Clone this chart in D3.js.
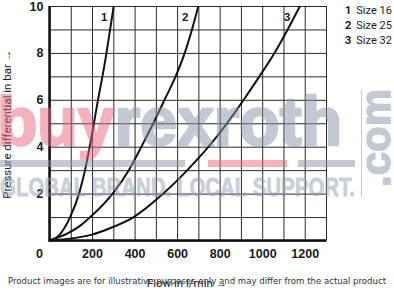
<!DOCTYPE html>
<html><head><meta charset="utf-8">
<script src="https://cdn.jsdelivr.net/npm/d3@7"></script>
<style>
html,body{margin:0;padding:0;background:#fff;}
svg{display:block;}
</style></head>
<body>
<svg id="chart" width="394" height="290"></svg>
<script>
// ---- data ----
const pressure1 = [0, 0.25, 0.5, 1, 2, 3, 4, 5, 6, 7, 8, 9, 10];
const flowSize16 = [0, 48, 68, 97, 139, 167, 189, 209, 228, 249, 268, 285, 302];
const pressure2 = [0, 0.3, 0.6, 1, 2, 3, 4, 5, 6, 7, 8, 9, 10];
const flowSize25 = [0, 85, 140, 192, 297, 373, 432, 488, 541, 593, 636, 670, 700];
const pressure3 = [0, 0.25, 0.5, 1, 2, 3, 4, 5, 6, 7, 8, 9, 10];
const flowSize32 = [0, 200, 278, 396, 535, 648, 748, 835, 913, 987, 1058, 1120, 1178];
const seriesNames = ["1", "2", "3"];
const legendLabels = ["Size 16", "Size 25", "Size 32"];
const flowTicks = [200, 400, 600, 800, 1000, 1200];
const pressureTicks = [2, 4, 6, 8, 10];
const xTitle = "Flow in l/min \u2192";
const yTitle = "Pressure differential in bar \u2192";
const disclaimer = "Product images are for illustrative purposes only and may differ from the actual product";

const svg = d3.select("#chart");
const x = d3.scaleLinear().domain([0, 1300]).range([49.5, 326]);
const y = d3.scaleLinear().domain([0, 10]).range([240.5, 6]);
const [x0, x1] = x.range();
const [y0, y1] = y.range();

// grid (vertical)
const gx = svg.append("g").attr("transform", `translate(0,${y0})`)
  .call(d3.axisBottom(x).tickValues(d3.range(0, 1301, 100)).tickSize(-(y0 - y1)).tickFormat(""));
gx.select(".domain").remove();
gx.selectAll("line").attr("stroke", "#2a2a2a").attr("stroke-width", 1);
// grid (horizontal)
const gy = svg.append("g").attr("transform", `translate(${x0},0)`)
  .call(d3.axisLeft(y).tickValues(d3.range(0, 11, 1)).tickSize(-(x1 - x0)).tickFormat(""));
gy.select(".domain").remove();
gy.selectAll("line").attr("stroke", "#2a2a2a").attr("stroke-width", 1);

// axis lines
svg.append("line").attr("x1", x0).attr("x2", x0).attr("y1", y1).attr("y2", y0 + 1)
  .attr("stroke", "#111").attr("stroke-width", 2.5);
svg.append("line").attr("x1", x0 - 1).attr("x2", x1 + 0.5).attr("y1", y0).attr("y2", y0)
  .attr("stroke", "#111").attr("stroke-width", 2.5);

// tick labels
const tickFont = "'Liberation Sans', Arial, sans-serif";
const ax = svg.append("g").attr("transform", `translate(0,${y0})`)
  .call(d3.axisBottom(x).tickValues(flowTicks).tickSize(0).tickPadding(9).tickFormat(d3.format("d")));
ax.select(".domain").remove();
ax.selectAll("text").attr("font-family", tickFont).attr("font-weight", "bold").attr("font-size", 12.5).attr("fill", "#1a1a1a");
const ay = svg.append("g").attr("transform", `translate(${x0},0)`)
  .call(d3.axisLeft(y).tickValues(pressureTicks).tickSize(0).tickPadding(6).tickFormat(d3.format("d")));
ay.select(".domain").remove();
ay.selectAll("text").attr("font-family", tickFont).attr("font-weight", "bold").attr("font-size", 12.5).attr("fill", "#1a1a1a");
svg.append("text").attr("x", x0 - 10).attr("y", 254).attr("dy", "0.35em").attr("text-anchor", "middle")
  .attr("font-family", tickFont).attr("font-weight", "bold").attr("font-size", 12.5).attr("fill", "#1a1a1a").text("0");

// curves
const series = [
  {p: pressure1, q: flowSize16},
  {p: pressure2, q: flowSize25},
  {p: pressure3, q: flowSize32}
];
const line = d3.line().x(d => x(d[0])).y(d => y(d[1])).curve(d3.curveMonotoneX);
series.forEach(s => {
  const pts = s.q.map((q, i) => [q, s.p[i]]);
  svg.append("path").attr("d", line(pts)).attr("fill", "none").attr("stroke", "#111").attr("stroke-width", 2);
});

// curve numbers near top
const labelFlowOffsets = [-45, -62, -60];
series.forEach((s, i) => {
  const qTop = s.q[s.q.length - 1];
  svg.append("text").attr("x", x(qTop) + labelFlowOffsets[i] * (x(100) - x(0)) / 100).attr("y", y(9.55))
    .attr("dy", "0.35em").attr("text-anchor", "middle")
    .attr("font-family", tickFont).attr("font-weight", "bold").attr("font-size", 11.5).attr("fill", "#1a1a1a")
    .text(seriesNames[i]);
});

// legend
const leg = svg.append("g");
legendLabels.forEach((lab, i) => {
  const t = leg.append("text").attr("x", 345).attr("y", 10 + i * 15).attr("dy", "0.35em")
    .attr("font-family", "Roboto, 'Liberation Sans', sans-serif").attr("font-size", 11).attr("fill", "#1a1a1a");
  t.append("tspan").attr("font-weight", "bold").text(seriesNames[i]);
  t.append("tspan").attr("dx", 5).text(lab);
});

// axis titles
svg.append("text").attr("transform", `translate(11,${(y0 + y1) / 2 + 1}) rotate(-90)`)
  .attr("text-anchor", "middle").attr("font-family", "Roboto, 'Liberation Sans', sans-serif")
  .attr("font-size", 11.5).attr("fill", "#222").text(yTitle);
svg.append("text").attr("x", 187).attr("y", 287)
  .attr("text-anchor", "middle").attr("font-family", "Roboto, 'Liberation Sans', sans-serif")
  .attr("font-size", 11.5).attr("fill", "#222").text(xTitle);

// watermark overlay (drawn as one semi-transparent layer)
const wm = svg.append("g").attr("pointer-events", "none").attr("opacity", 0.5);
const wmText = wm.append("text").attr("x", -3).attr("y", 145)
  .attr("font-family", "'Liberation Sans', Arial, sans-serif").attr("font-weight", "bold")
  .attr("font-size", 68).attr("textLength", 345).attr("lengthAdjust", "spacingAndGlyphs")
  .attr("stroke-width", 2.5).attr("stroke-linejoin", "round");
wmText.append("tspan").attr("fill", "#e8687f").attr("stroke", "#e8687f").text("buy");
wmText.append("tspan").attr("fill", "#8795a9").attr("stroke", "#8795a9").text("rexroth");
wm.append("rect").attr("x", 0).attr("y", 160).attr("width", 185).attr("height", 7).attr("fill", "#8795a9");
wm.append("rect").attr("x", 208).attr("y", 160).attr("width", 79).attr("height", 7).attr("fill", "#e8687f");
wm.append("rect").attr("x", 298).attr("y", 160).attr("width", 57).attr("height", 7).attr("fill", "#8795a9");
wm.append("text").attr("x", 0).attr("y", 196)
  .attr("font-family", "'Liberation Sans', Arial, sans-serif").attr("font-weight", "bold")
  .attr("font-size", 25).attr("textLength", 355).attr("lengthAdjust", "spacingAndGlyphs")
  .attr("fill", "#95a0b0").attr("stroke", "#95a0b0").attr("stroke-width", 0.8).text("GLOBAL BRAND. LOCAL SUPPORT.");
wm.append("line").attr("x1", 361.5).attr("x2", 361.5).attr("y1", 90).attr("y2", 197)
  .attr("stroke", "#8795a9").attr("stroke-width", 1);
wm.append("text").attr("transform", "translate(390,138) rotate(-90)").attr("text-anchor", "middle")
  .attr("font-family", "'Liberation Sans', Arial, sans-serif").attr("font-weight", "bold")
  .attr("font-size", 42).attr("fill", "#8795a9").attr("stroke", "#8795a9").attr("stroke-width", 1.5).text(".com");

// disclaimer
svg.append("text").attr("x", 197).attr("y", 284).attr("text-anchor", "middle")
  .attr("font-family", "'DejaVu Sans', Verdana, sans-serif").attr("font-size", 9)
  .attr("textLength", 378).attr("lengthAdjust", "spacingAndGlyphs")
  .attr("fill", "#333").text(disclaimer);
</script>
</body></html>
